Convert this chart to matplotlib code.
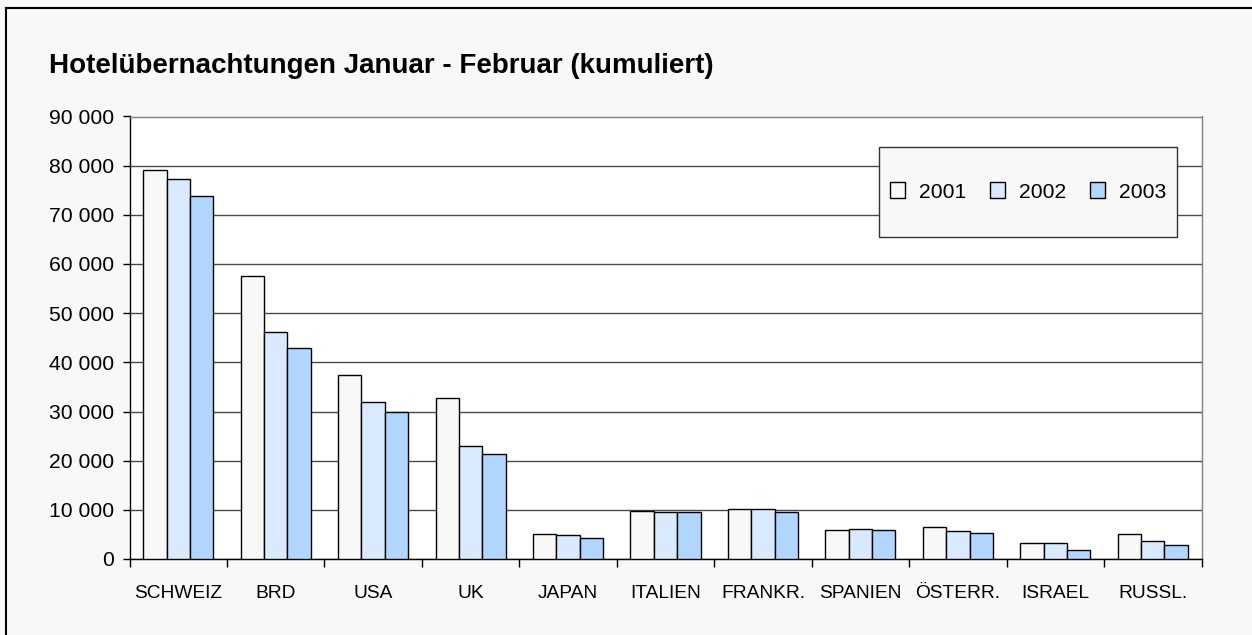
import numpy as np
import matplotlib.pyplot as plt
from matplotlib.patches import Rectangle
from matplotlib.ticker import FuncFormatter, FixedLocator

plt.rcParams['font.family'] = ['Liberation Sans', 'DejaVu Sans']

# Hotelübernachtungen (Anzahl), Januar - Februar kumuliert
countries = ['SCHWEIZ', 'BRD', 'USA', 'UK', 'JAPAN', 'ITALIEN', 'FRANKR.',
             'SPANIEN', 'ÖSTERR.', 'ISRAEL', 'RUSSL.']
years = ['2001', '2002', '2003']
v2001 = [79200, 57500, 37500, 32700, 5100, 9800, 10200, 5900, 6500, 3200, 5100]
v2002 = [77300, 46100, 32000, 23000, 4900, 9500, 10150, 6200, 5700, 3200, 3600]
v2003 = [73900, 42900, 29800, 21400, 4200, 9500, 9500, 5900, 5300, 1850, 2800]

colors = ['#F8F8F8', '#D9EAFF', '#B1D6FF']
bg = '#F8F8F8'

W, H = 1252, 635
fig = plt.figure(figsize=(W / 100, H / 100), dpi=100, facecolor=bg)

# plot area in pixels
left, right, top, bottom = 129.5, 1201.5, 116.5, 559
ax = fig.add_axes([left / W, (H - bottom) / H, (right - left) / W, (bottom - top) / H])
ax.set_facecolor('white')

x = np.arange(len(countries))
bw = 0.24
for i, vals in enumerate([v2001, v2002, v2003]):
    ax.bar(x + (i - 1) * bw, vals, bw, color=colors[i], edgecolor='black',
           linewidth=1, label=years[i], zorder=3)

ax.set_xlim(-0.5, len(countries) - 0.5)
ax.set_ylim(0, 90000)
ax.set_yticks(np.arange(0, 90001, 10000))
ax.yaxis.set_major_formatter(FuncFormatter(lambda v, p: f'{int(v):,}'.replace(',', ' ')))
ax.yaxis.grid(True, color='#4a4a4a', linewidth=1, zorder=0)
ax.tick_params(axis='y', labelsize=15.2, length=5, width=1, direction='out',
               pad=6, colors='black')

# ticks between categories, labels at centres
ax.xaxis.set_major_locator(FixedLocator(np.arange(-0.5, len(countries), 1.0)))
ax.xaxis.set_major_formatter(FuncFormatter(lambda v, p: ''))
ax.xaxis.set_minor_locator(FixedLocator(x))
ax.set_xticklabels(countries, minor=True)
ax.tick_params(axis='x', which='major', length=6, width=1, direction='out')
ax.tick_params(axis='x', which='minor', length=0, labelsize=13.8, pad=19)

for s in ['left', 'bottom']:
    ax.spines[s].set_color('black')
    ax.spines[s].set_linewidth(1)
for s in ['top', 'right']:
    ax.spines[s].set_color('#808080')
    ax.spines[s].set_linewidth(1)

# legend box
lx0, lx1, ly0, ly1 = 879, 1177, 147, 237
ax.add_patch(Rectangle(((lx0 - left) / (right - left), (bottom - ly1) / (bottom - top)),
                       (lx1 - lx0) / (right - left), (ly1 - ly0) / (bottom - top),
                       transform=ax.transAxes, facecolor=bg, edgecolor='#333333',
                       linewidth=1, zorder=5))
ax.legend(loc='center', ncol=3, frameon=False, fontsize=15.2,
          bbox_to_anchor=(((lx0 + lx1) / 2 - left) / (right - left),
                          (bottom - (ly0 + ly1) / 2) / (bottom - top)),
          handlelength=0.75, handleheight=0.75, handletextpad=0.65,
          columnspacing=1.1).set_zorder(6)

fig.text(49 / W, 1 - 73 / H, 'Hotelübernachtungen Januar - Februar (kumuliert)',
         fontsize=20, fontweight='bold', ha='left', va='baseline')

# outer chart border (top and left visible)
fig.add_artist(plt.Line2D([6 / W, 6 / W], [0, 1 - 8 / H], color='black', lw=1.5,
                          transform=fig.transFigure))
fig.add_artist(plt.Line2D([6 / W, 1], [1 - 8 / H, 1 - 8 / H], color='black', lw=1.5,
                          transform=fig.transFigure))

fig.savefig('out.png', dpi=100, facecolor=bg)
